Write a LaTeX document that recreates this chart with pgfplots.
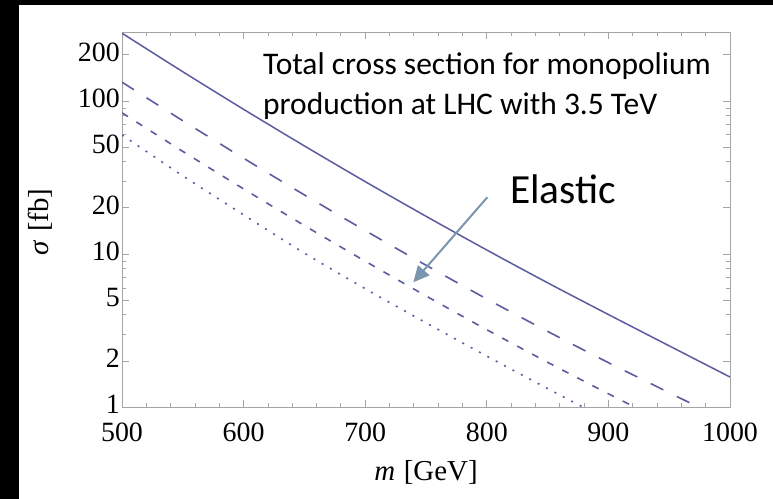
\documentclass[border=0pt]{standalone}
\usepackage{fontspec}
\setmainfont{Liberation Serif}
\newfontfamily\carlito{Carlito}
\usepackage{pgfplots}
\pgfplotsset{compat=1.18}
\usetikzlibrary{arrows.meta}
\definecolor{curve}{RGB}{92,92,160}
\definecolor{frame}{RGB}{165,165,165}
\definecolor{pointer}{RGB}{122,149,174}

\begin{document}
\begin{tikzpicture}
% dark surround and white panel
\fill[black] (0,0) rectangle (773bp,499bp);
\fill[white] (19bp,0) rectangle (773bp,494bp);
\begin{axis}[
  at={(122bp,92bp)}, anchor=south west,
  scale only axis, width=608bp, height=375bp,
  xmin=500, xmax=1000, ymin=1, ymax=282, ymode=log,
  xtick={500,600,700,800,900,1000},
  xticklabels={500,600,700,800,900,1000},
  minor x tick num=4,
  ytick={1,2,5,10,20,50,100,200},
  yticklabels={1,2,5,10,20,50,100,200},
  minor ytick={3,4,6,7,8,9,30,40,60,70,80,90},
  tick align=inside, xtick pos=both, ytick pos=both,
  xticklabel pos=lower, yticklabel pos=left,
  major tick length=7bp, minor tick length=4bp,
  axis line style={frame, line width=0.8bp},
  tick style={frame, line width=0.8bp},
  tick label style={font=\fontsize{28}{30}\selectfont, inner sep=0pt},
  xticklabel style={anchor=north, yshift=-16bp},
  yticklabel style={anchor=east, xshift=-2bp, yshift=2.5bp},
  xlabel={\textit{m}\hspace{0.3em}[GeV]},
  ylabel={\textit{σ}\hspace{0.3em}[fb]},
  label style={font=\fontsize{29}{31}\selectfont},
  xlabel style={at={(rel axis cs:0.5,-0.1947)}, anchor=base},
  ylabel style={at={(rel axis cs:-0.1201,0.4933)}, anchor=base},
  clip=true,
]
% total
\addplot[curve, line width=1.5bp, smooth] table {
500 277
550 155.1
600 88.1
650 50.8
700 29.7
750 17.63
800 10.61
850 6.48
900 4.02
950 2.51
1000 1.57
};
% long dashes
\addplot[curve, line width=1.6bp, smooth, dash pattern=on 14bp off 15bp] table {
500 132.6
550 74.2
600 42.2
650 24.3
700 14.22
750 8.44
800 5.08
850 3.12
900 1.95
950 1.24
1000 0.79
};
% short dashes
\addplot[curve, line width=1.6bp, smooth, dash pattern=on 7bp off 10bp] table {
500 83.6
550 46.8
600 26.6
650 15.34
700 8.97
750 5.32
800 3.20
850 1.96
900 1.22
950 0.77
1000 0.49
};
% dotted
\addplot[curve, line width=1.6bp, smooth, dash pattern=on 2bp off 7.5bp] table {
500 59.9
550 32.4
600 18.0
650 10.13
700 5.93
750 3.55
800 2.15
850 1.32
900 0.82
950 0.52
1000 0.33
};
\end{axis}
\node[anchor=base west, inner sep=0pt, font=\carlito\fontsize{31.6}{38}\selectfont] at (263bp,424bp) {Total cross section for monopolium};
\node[anchor=base west, inner sep=0pt, font=\carlito\fontsize{31.6}{38}\selectfont] at (263bp,384bp) {production at LHC with 3.5 TeV};
\node[anchor=base west, inner sep=0pt, font=\carlito\fontsize{41.6}{48}\selectfont] at (510bp,295bp) {Elastic};
\draw[pointer, line width=2bp, -{Triangle[length=16bp,width=15bp]}] (487.3bp,301.7bp) -- (413.3bp,216.7bp);
\end{tikzpicture}
\end{document}
